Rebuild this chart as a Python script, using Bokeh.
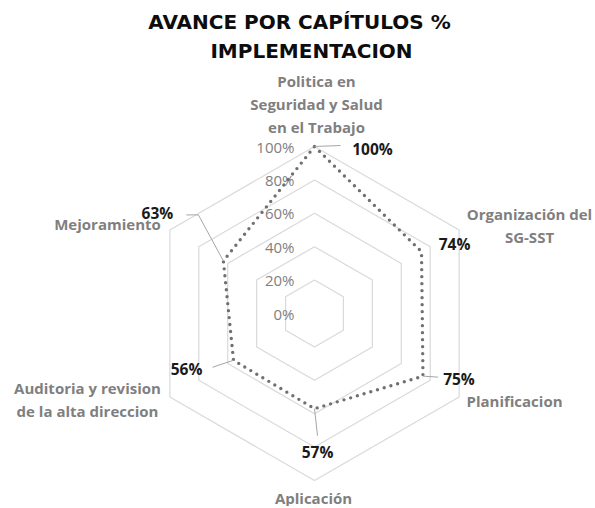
import math
from bokeh.plotting import figure
from bokeh.models import Range1d
from bokeh.core.properties import value
from bokeh.embed import file_html
from bokeh.resources import INLINE

# ---- data ----
categories = [
    ["Politica en", "Seguridad y Salud", "en el Trabajo"],
    ["Organización del", "SG-SST"],
    ["Planificacion"],
    ["Aplicación"],
    ["Auditoria y revision", "de la alta direccion"],
    ["Mejoramiento"],
]
values = [1.00, 0.74, 0.75, 0.57, 0.56, 0.63]
value_labels = ["100%", "74%", "75%", "57%", "56%", "63%"]
ring_levels = [0.0, 0.2, 0.4, 0.6, 0.8, 1.0]
ring_labels = ["0%", "20%", "40%", "60%", "80%", "100%"]
title_lines = ["AVANCE POR CAPÍTULOS %", "IMPLEMENTACION"]

# ---- layout (page pixel coordinates, y downward) ----
CX, CY, R = 314.0, 313.0, 167.0
W, H = 593, 506

def polar(i, frac):
    th = math.radians(90 - i * 60)
    return CX + R * frac * math.cos(th), CY - R * frac * math.sin(th)

p = figure(width=W, height=H, output_backend="svg", toolbar_location=None,
           x_range=Range1d(0, W), y_range=Range1d(H, 0),
           min_border=0, outline_line_color=None)
p.axis.visible = False
p.grid.visible = False
p.background_fill_color = "white"

FONT = value("Open Sans")

# grid rings
for lvl in ring_levels[1:]:
    xs, ys = zip(*[polar(i, lvl) for i in range(7)])
    p.line(list(xs), list(ys), line_color="#d9d9d9", line_width=1.2)

# ring tick labels
tick_x = [CX - 20] * len(ring_levels)
tick_y = [polar(0, l)[1] for l in ring_levels]
p.text(x=tick_x, y=tick_y, text=ring_labels, text_font=FONT, text_font_size="15px",
       text_color="#808080", text_align="right", text_baseline="middle")

# series (dotted)
pts = [polar(i, v) for i, v in enumerate(values)]
sx = [q[0] for q in pts] + [pts[0][0]]
sy = [q[1] for q in pts] + [pts[0][1]]
p.line(sx, sy, line_color="#707070", line_width=3.4, line_dash="0 7", line_cap="round")

# data labels: label centre offsets from the point, plus leader-line elbow (None = no leader)
lab_off = [(58, 2), (33, -8), (36, 3), (3, 43), (-47, 9), (-66, -48)]
leader_end = [(26, -1), None, (15, 1), (3, 27), (-21, 7), [(-25, -46), (-37, -46)]]
for i, (px, py) in enumerate(pts):
    le = leader_end[i]
    if le is not None:
        if isinstance(le, list):
            lx = [px] + [px + a for a, b in le]
            ly = [py] + [py + b for a, b in le]
        else:
            lx = [px, px + le[0]]
            ly = [py, py + le[1]]
        p.line(lx, ly, line_color="#a6a6a6", line_width=1)
p.text(x=[q[0] + o[0] for q, o in zip(pts, lab_off)],
       y=[q[1] + o[1] for q, o in zip(pts, lab_off)],
       text=value_labels, text_font=FONT, text_font_style="bold", text_font_size="15.5px",
       text_color="#1a1a1a", text_align="center", text_baseline="middle")

# category labels: anchor of first line, line spacing 23
cat_anchor = [(316, 80), (529, 213), (514, 400), (313, 497), (87, 387), (107, 223)]
cx_l, cy_l, ct_l = [], [], []
for lines, (ax, ay) in zip(categories, cat_anchor):
    for k, t in enumerate(lines):
        cx_l.append(ax); cy_l.append(ay + 23 * k); ct_l.append(t)
p.text(x=cx_l, y=cy_l, text=ct_l, text_font=FONT, text_font_style="bold",
       text_font_size="15px", text_color="#7f7f7f", text_align="center",
       text_baseline="middle")

# title
p.text(x=[299, 311], y=[21, 50], text=title_lines, text_font=value("DejaVu Sans"),
       text_font_style="bold", text_font_size="20px", text_color="#0d0d0d",
       text_align="center", text_baseline="middle")

open("out.html", "w").write(file_html(p, INLINE))
